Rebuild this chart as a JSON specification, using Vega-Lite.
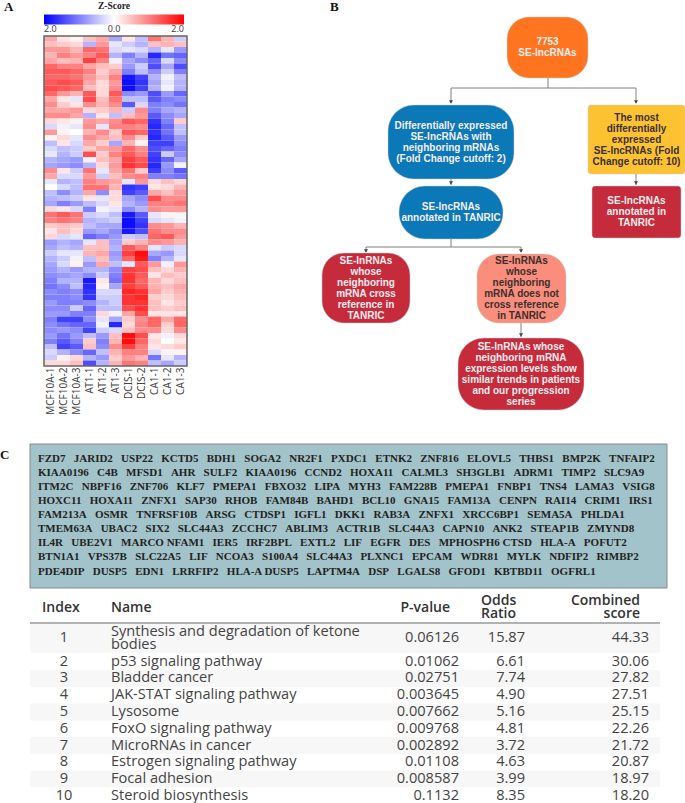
{"$schema":"https://vega.github.io/schema/vega-lite/v6.json","width":685,"height":803,"autosize":{"type":"none"},"padding":0,"background":"#ffffff","config":{"view":{"stroke":null}},
"datasets":{
"boxes":[
{"id":"source","lines":"7753\nSE-lncRNAs","left":507,"top":17,"right":588,"bottom":78,"radius":"mid","tone":"light"},
{"id":"de","lines":"Differentially expressed\nSE-lncRNAs with\nneighboring mRNAs\n(Fold Change cutoff: 2)","left":388,"top":105,"right":514,"bottom":179,"radius":"large","tone":"light"},
{"id":"tanric","lines":"SE-lncRNAs\nannotated in TANRIC","left":399,"top":186,"right":503,"bottom":239,"radius":"large","tone":"light"},
{"id":"top","lines":"The most\ndifferentially\nexpressed\nSE-lncRNAs (Fold\nChange cutoff: 10)","left":588,"top":105,"right":685,"bottom":174,"radius":"small","tone":"dark"},
{"id":"red","lines":"SE-lncRNAs\nannotated in\nTANRIC","left":592,"top":186,"right":681,"bottom":238,"radius":"small","tone":"light"},
{"id":"red","lines":"SE-lnRNAs\nwhose\nneighboring\nmRNA cross\nreference in\nTANRIC","left":322,"top":253,"right":410,"bottom":323,"radius":"mid","tone":"light"},
{"id":"salmon","lines":"SE-lnRNAs\nwhose\nneighboring\nmRNA does not\ncross reference\nin TANRIC","left":477,"top":254,"right":566,"bottom":323,"radius":"mid","tone":"dark"},
{"id":"red","lines":"SE-lnRNAs whose\nneighboring mRNA\nexpression levels show\nsimilar trends in patients\nand our progression\nseries","left":458,"top":338,"right":584,"bottom":410,"radius":"large","tone":"light"}
],
"links":[
{"x":548,"y":78,"xe":548,"ye":88},{"x":451,"y":88,"xe":636,"ye":88},{"x":451,"y":88,"xe":451,"ye":103},{"x":636,"y":88,"xe":636,"ye":103},
{"x":451,"y":179,"xe":451,"ye":185},{"x":636,"y":174,"xe":636,"ye":185},
{"x":451,"y":239,"xe":451,"ye":247},{"x":366,"y":247,"xe":521,"ye":247},{"x":366,"y":247,"xe":366,"ye":252},{"x":521,"y":247,"xe":521,"ye":252},
{"x":521,"y":323,"xe":521,"ye":337}],
"heads":[{"x":451,"y":102},{"x":636,"y":102},{"x":451,"y":183},{"x":636,"y":183},{"x":366,"y":251},{"x":521,"y":251},{"x":521,"y":335}],
"genes":[
{"y":459,"t":"FZD7  JARID2  USP22  KCTD5  BDH1  SOGA2  NR2F1  PXDC1  ETNK2  ZNF816  ELOVL5  THBS1  BMP2K  TNFAIP2"},
{"y":473,"t":"KIAA0196  C4B  MFSD1  AHR  SULF2  KIAA0196  CCND2  HOXA11  CALML3  SH3GLB1  ADRM1  TIMP2  SLC9A9"},
{"y":487,"t":"ITM2C  NBPF16  ZNF706  KLF7  PMEPA1  FBXO32  LIPA  MYH3  FAM228B  PMEPA1  FNBP1  TNS4  LAMA3  VSIG8"},
{"y":501,"t":"HOXC11  HOXA11  ZNFX1  SAP30  RHOB  FAM84B  BAHD1  BCL10  GNA15  FAM13A  CENPN  RAI14  CRIM1  IRS1"},
{"y":514.5,"t":"FAM213A  OSMR  TNFRSF10B  ARSG  CTDSP1  IGFL1  DKK1  RAB3A  ZNFX1  XRCC6BP1  SEMA5A  PHLDA1"},
{"y":529,"t":"TMEM63A  UBAC2  SIX2  SLC44A3  ZCCHC7  ABLIM3  ACTR1B  SLC44A3  CAPN10  ANK2  STEAP1B  ZMYND8"},
{"y":543,"t":"IL4R  UBE2V1  MARCO NFAM1  IER5  IRF2BPL  EXTL2  LIF  EGFR  DES  MPHOSPH6 CTSD  HLA-A  POFUT2"},
{"y":557,"t":"BTN1A1  VPS37B  SLC22A5  LIF  NCOA3  S100A4  SLC44A3  PLXNC1  EPCAM  WDR81  MYLK  NDFIP2  RIMBP2"},
{"y":571.5,"t":"PDE4DIP  DUSP5  EDN1  LRRFIP2  HLA-A DUSP5  LAPTM4A  DSP  LGALS8  GFOD1  KBTBD11  OGFRL1"}],
"bands":[{"top":623.5,"bottom":652.7},{"top":670,"bottom":687},{"top":703.5,"bottom":720.5},{"top":737,"bottom":754},{"top":770.5,"bottom":787}],
"head":[{"r":0,"c":1,"t":"Index"},{"r":0,"c":2,"t":"Name"},{"r":0,"c":3,"t":"P-value"},{"r":0,"c":4,"t":"Odds\nRatio"},{"r":0,"c":5,"t":"Combined\nscore"}],
"cells":[
{"r":1,"c":1,"t":"1"},{"r":1,"c":2,"t":"Synthesis and degradation of ketone\nbodies"},{"r":1,"c":3,"t":"0.06126"},{"r":1,"c":4,"t":"15.87"},{"r":1,"c":5,"t":"44.33"},
{"r":2,"c":1,"t":"2"},{"r":2,"c":2,"t":"p53 signaling pathway"},{"r":2,"c":3,"t":"0.01062"},{"r":2,"c":4,"t":"6.61"},{"r":2,"c":5,"t":"30.06"},
{"r":3,"c":1,"t":"3"},{"r":3,"c":2,"t":"Bladder cancer"},{"r":3,"c":3,"t":"0.02751"},{"r":3,"c":4,"t":"7.74"},{"r":3,"c":5,"t":"27.82"},
{"r":4,"c":1,"t":"4"},{"r":4,"c":2,"t":"JAK-STAT signaling pathway"},{"r":4,"c":3,"t":"0.003645"},{"r":4,"c":4,"t":"4.90"},{"r":4,"c":5,"t":"27.51"},
{"r":5,"c":1,"t":"5"},{"r":5,"c":2,"t":"Lysosome"},{"r":5,"c":3,"t":"0.007662"},{"r":5,"c":4,"t":"5.16"},{"r":5,"c":5,"t":"25.15"},
{"r":6,"c":1,"t":"6"},{"r":6,"c":2,"t":"FoxO signaling pathway"},{"r":6,"c":3,"t":"0.009768"},{"r":6,"c":4,"t":"4.81"},{"r":6,"c":5,"t":"22.26"},
{"r":7,"c":1,"t":"7"},{"r":7,"c":2,"t":"MicroRNAs in cancer"},{"r":7,"c":3,"t":"0.002892"},{"r":7,"c":4,"t":"3.72"},{"r":7,"c":5,"t":"21.72"},
{"r":8,"c":1,"t":"8"},{"r":8,"c":2,"t":"Estrogen signaling pathway"},{"r":8,"c":3,"t":"0.01108"},{"r":8,"c":4,"t":"4.63"},{"r":8,"c":5,"t":"20.87"},
{"r":9,"c":1,"t":"9"},{"r":9,"c":2,"t":"Focal adhesion"},{"r":9,"c":3,"t":"0.008587"},{"r":9,"c":4,"t":"3.99"},{"r":9,"c":5,"t":"18.97"},
{"r":10,"c":1,"t":"10"},{"r":10,"c":2,"t":"Steroid biosynthesis"},{"r":10,"c":3,"t":"0.1132"},{"r":10,"c":4,"t":"8.35"},{"r":10,"c":5,"t":"18.20"}]
},
"resolve":{"scale":{"x":"independent","y":"independent","color":"independent"}},
"layer":[
{"data":{"values":[
{"r":0,"s":"MCF10A-1","z":0.7},{"r":0,"s":"MCF10A-2","z":0.2},{"r":0,"s":"MCF10A-3","z":0.1},{"r":0,"s":"AT1-1","z":0.5},{"r":0,"s":"AT1-2","z":0.7},{"r":0,"s":"AT1-3","z":-0.7},{"r":0,"s":"DCIS-1","z":0.2},{"r":0,"s":"DCIS-2","z":-0.5},{"r":0,"s":"CA1-1","z":1.1},{"r":0,"s":"CA1-2","z":0.6},{"r":0,"s":"CA1-3","z":-0.4},
{"r":1,"s":"MCF10A-1","z":0.5},{"r":1,"s":"MCF10A-2","z":0.4},{"r":1,"s":"MCF10A-3","z":0.3},{"r":1,"s":"AT1-1","z":-0.6},{"r":1,"s":"AT1-2","z":0.8},{"r":1,"s":"AT1-3","z":-0.2},{"r":1,"s":"DCIS-1","z":-0.4},{"r":1,"s":"DCIS-2","z":-0.6},{"r":1,"s":"CA1-1","z":0.5},{"r":1,"s":"CA1-2","z":0.6},{"r":1,"s":"CA1-3","z":0.5},
{"r":2,"s":"MCF10A-1","z":0.8},{"r":2,"s":"MCF10A-2","z":0.8},{"r":2,"s":"MCF10A-3","z":0.6},{"r":2,"s":"AT1-1","z":1.2},{"r":2,"s":"AT1-2","z":1.1},{"r":2,"s":"AT1-3","z":-0.3},{"r":2,"s":"DCIS-1","z":-0.2},{"r":2,"s":"DCIS-2","z":-0.3},{"r":2,"s":"CA1-1","z":-0.6},{"r":2,"s":"CA1-2","z":-0.2},{"r":2,"s":"CA1-3","z":-0.8},
{"r":3,"s":"MCF10A-1","z":0.6},{"r":3,"s":"MCF10A-2","z":1.0},{"r":3,"s":"MCF10A-3","z":0.8},{"r":3,"s":"AT1-1","z":1.0},{"r":3,"s":"AT1-2","z":1.3},{"r":3,"s":"AT1-3","z":-0.6},{"r":3,"s":"DCIS-1","z":-1.0},{"r":3,"s":"DCIS-2","z":-0.6},{"r":3,"s":"CA1-1","z":-1.7},{"r":3,"s":"CA1-2","z":-1.1},{"r":3,"s":"CA1-3","z":-1.2},
{"r":4,"s":"MCF10A-1","z":0.7},{"r":4,"s":"MCF10A-2","z":0.5},{"r":4,"s":"MCF10A-3","z":0.6},{"r":4,"s":"AT1-1","z":1.5},{"r":4,"s":"AT1-2","z":1.0},{"r":4,"s":"AT1-3","z":-0.1},{"r":4,"s":"DCIS-1","z":-0.7},{"r":4,"s":"DCIS-2","z":-0.9},{"r":4,"s":"CA1-1","z":-1.2},{"r":4,"s":"CA1-2","z":-0.3},{"r":4,"s":"CA1-3","z":-0.9},
{"r":5,"s":"MCF10A-1","z":1.2},{"r":5,"s":"MCF10A-2","z":1.0},{"r":5,"s":"MCF10A-3","z":1.0},{"r":5,"s":"AT1-1","z":0.7},{"r":5,"s":"AT1-2","z":0.5},{"r":5,"s":"AT1-3","z":0.4},{"r":5,"s":"DCIS-1","z":-0.8},{"r":5,"s":"DCIS-2","z":-0.4},{"r":5,"s":"CA1-1","z":-1.4},{"r":5,"s":"CA1-2","z":-0.7},{"r":5,"s":"CA1-3","z":-1.4},
{"r":6,"s":"MCF10A-1","z":1.3},{"r":6,"s":"MCF10A-2","z":1.3},{"r":6,"s":"MCF10A-3","z":1.2},{"r":6,"s":"AT1-1","z":1.0},{"r":6,"s":"AT1-2","z":0.4},{"r":6,"s":"AT1-3","z":0.7},{"r":6,"s":"DCIS-1","z":-1.0},{"r":6,"s":"DCIS-2","z":-0.5},{"r":6,"s":"CA1-1","z":-0.9},{"r":6,"s":"CA1-2","z":-0.4},{"r":6,"s":"CA1-3","z":-1.0},
{"r":7,"s":"MCF10A-1","z":1.2},{"r":7,"s":"MCF10A-2","z":1.2},{"r":7,"s":"MCF10A-3","z":1.1},{"r":7,"s":"AT1-1","z":0.8},{"r":7,"s":"AT1-2","z":0.5},{"r":7,"s":"AT1-3","z":1.0},{"r":7,"s":"DCIS-1","z":-1.8},{"r":7,"s":"DCIS-2","z":-1.5},{"r":7,"s":"CA1-1","z":-0.6},{"r":7,"s":"CA1-2","z":-0.1},{"r":7,"s":"CA1-3","z":-0.5},
{"r":8,"s":"MCF10A-1","z":1.3},{"r":8,"s":"MCF10A-2","z":1.4},{"r":8,"s":"MCF10A-3","z":1.3},{"r":8,"s":"AT1-1","z":0.7},{"r":8,"s":"AT1-2","z":0.3},{"r":8,"s":"AT1-3","z":0.8},{"r":8,"s":"DCIS-1","z":-1.9},{"r":8,"s":"DCIS-2","z":-1.6},{"r":8,"s":"CA1-1","z":-0.7},{"r":8,"s":"CA1-2","z":-0.2},{"r":8,"s":"CA1-3","z":-0.6},
{"r":9,"s":"MCF10A-1","z":1.4},{"r":9,"s":"MCF10A-2","z":1.3},{"r":9,"s":"MCF10A-3","z":1.2},{"r":9,"s":"AT1-1","z":0.5},{"r":9,"s":"AT1-2","z":0.3},{"r":9,"s":"AT1-3","z":0.9},{"r":9,"s":"DCIS-1","z":-1.9},{"r":9,"s":"DCIS-2","z":-1.5},{"r":9,"s":"CA1-1","z":-0.6},{"r":9,"s":"CA1-2","z":-0.1},{"r":9,"s":"CA1-3","z":-0.6},
{"r":10,"s":"MCF10A-1","z":1.2},{"r":10,"s":"MCF10A-2","z":0.8},{"r":10,"s":"MCF10A-3","z":0.6},{"r":10,"s":"AT1-1","z":1.3},{"r":10,"s":"AT1-2","z":0.3},{"r":10,"s":"AT1-3","z":1.3},{"r":10,"s":"DCIS-1","z":-0.9},{"r":10,"s":"DCIS-2","z":-0.8},{"r":10,"s":"CA1-1","z":-1.4},{"r":10,"s":"CA1-2","z":-0.8},{"r":10,"s":"CA1-3","z":-1.2},
{"r":11,"s":"MCF10A-1","z":0.7},{"r":11,"s":"MCF10A-2","z":0.2},{"r":11,"s":"MCF10A-3","z":-0.2},{"r":11,"s":"AT1-1","z":1.4},{"r":11,"s":"AT1-2","z":0.5},{"r":11,"s":"AT1-3","z":1.1},{"r":11,"s":"DCIS-1","z":-0.5},{"r":11,"s":"DCIS-2","z":-0.5},{"r":11,"s":"CA1-1","z":-1.3},{"r":11,"s":"CA1-2","z":-1.0},{"r":11,"s":"CA1-3","z":-0.9},
{"r":12,"s":"MCF10A-1","z":0.9},{"r":12,"s":"MCF10A-2","z":0.4},{"r":12,"s":"MCF10A-3","z":0.2},{"r":12,"s":"AT1-1","z":0.9},{"r":12,"s":"AT1-2","z":0.6},{"r":12,"s":"AT1-3","z":0.9},{"r":12,"s":"DCIS-1","z":-1.3},{"r":12,"s":"DCIS-2","z":-0.3},{"r":12,"s":"CA1-1","z":-1.0},{"r":12,"s":"CA1-2","z":-0.9},{"r":12,"s":"CA1-3","z":-1.1},
{"r":13,"s":"MCF10A-1","z":0.7},{"r":13,"s":"MCF10A-2","z":0.7},{"r":13,"s":"MCF10A-3","z":0.8},{"r":13,"s":"AT1-1","z":0.3},{"r":13,"s":"AT1-2","z":0.4},{"r":13,"s":"AT1-3","z":0.6},{"r":13,"s":"DCIS-1","z":-0.4},{"r":13,"s":"DCIS-2","z":0.9},{"r":13,"s":"CA1-1","z":-1.0},{"r":13,"s":"CA1-2","z":-0.7},{"r":13,"s":"CA1-3","z":-0.6},
{"r":14,"s":"MCF10A-1","z":0.9},{"r":14,"s":"MCF10A-2","z":0.9},{"r":14,"s":"MCF10A-3","z":0.7},{"r":14,"s":"AT1-1","z":-0.6},{"r":14,"s":"AT1-2","z":0.2},{"r":14,"s":"AT1-3","z":-0.5},{"r":14,"s":"DCIS-1","z":0.5},{"r":14,"s":"DCIS-2","z":0.8},{"r":14,"s":"CA1-1","z":-1.3},{"r":14,"s":"CA1-2","z":-0.9},{"r":14,"s":"CA1-3","z":-0.7},
{"r":15,"s":"MCF10A-1","z":0.3},{"r":15,"s":"MCF10A-2","z":0.2},{"r":15,"s":"MCF10A-3","z":0.1},{"r":15,"s":"AT1-1","z":0.8},{"r":15,"s":"AT1-2","z":0.7},{"r":15,"s":"AT1-3","z":0.9},{"r":15,"s":"DCIS-1","z":1.3},{"r":15,"s":"DCIS-2","z":1.2},{"r":15,"s":"CA1-1","z":-1.6},{"r":15,"s":"CA1-2","z":-1.0},{"r":15,"s":"CA1-3","z":0.4},
{"r":16,"s":"MCF10A-1","z":-0.3},{"r":16,"s":"MCF10A-2","z":-0.1},{"r":16,"s":"MCF10A-3","z":-0.2},{"r":16,"s":"AT1-1","z":0.9},{"r":16,"s":"AT1-2","z":-0.2},{"r":16,"s":"AT1-3","z":1.0},{"r":16,"s":"DCIS-1","z":1.0},{"r":16,"s":"DCIS-2","z":0.9},{"r":16,"s":"CA1-1","z":-1.7},{"r":16,"s":"CA1-2","z":-1.2},{"r":16,"s":"CA1-3","z":-0.5},
{"r":17,"s":"MCF10A-1","z":0.8},{"r":17,"s":"MCF10A-2","z":0.1},{"r":17,"s":"MCF10A-3","z":0.0},{"r":17,"s":"AT1-1","z":0.6},{"r":17,"s":"AT1-2","z":0.9},{"r":17,"s":"AT1-3","z":0.4},{"r":17,"s":"DCIS-1","z":1.3},{"r":17,"s":"DCIS-2","z":1.2},{"r":17,"s":"CA1-1","z":-1.6},{"r":17,"s":"CA1-2","z":-1.1},{"r":17,"s":"CA1-3","z":-0.5},
{"r":18,"s":"MCF10A-1","z":0.1},{"r":18,"s":"MCF10A-2","z":0.3},{"r":18,"s":"MCF10A-3","z":-0.2},{"r":18,"s":"AT1-1","z":0.9},{"r":18,"s":"AT1-2","z":0.7},{"r":18,"s":"AT1-3","z":0.5},{"r":18,"s":"DCIS-1","z":0.9},{"r":18,"s":"DCIS-2","z":0.4},{"r":18,"s":"CA1-1","z":-1.7},{"r":18,"s":"CA1-2","z":-1.3},{"r":18,"s":"CA1-3","z":-0.8},
{"r":19,"s":"MCF10A-1","z":-0.5},{"r":19,"s":"MCF10A-2","z":0.2},{"r":19,"s":"MCF10A-3","z":-0.3},{"r":19,"s":"AT1-1","z":0.7},{"r":19,"s":"AT1-2","z":0.4},{"r":19,"s":"AT1-3","z":-0.7},{"r":19,"s":"DCIS-1","z":0.6},{"r":19,"s":"DCIS-2","z":0.1},{"r":19,"s":"CA1-1","z":-1.5},{"r":19,"s":"CA1-2","z":-1.5},{"r":19,"s":"CA1-3","z":-0.9},
{"r":20,"s":"MCF10A-1","z":-0.3},{"r":20,"s":"MCF10A-2","z":-0.5},{"r":20,"s":"MCF10A-3","z":-0.4},{"r":20,"s":"AT1-1","z":0.4},{"r":20,"s":"AT1-2","z":0.7},{"r":20,"s":"AT1-3","z":0.8},{"r":20,"s":"DCIS-1","z":1.2},{"r":20,"s":"DCIS-2","z":0.9},{"r":20,"s":"CA1-1","z":-1.4},{"r":20,"s":"CA1-2","z":-1.2},{"r":20,"s":"CA1-3","z":-1.0},
{"r":21,"s":"MCF10A-1","z":-0.2},{"r":21,"s":"MCF10A-2","z":-0.6},{"r":21,"s":"MCF10A-3","z":-0.4},{"r":21,"s":"AT1-1","z":1.4},{"r":21,"s":"AT1-2","z":0.4},{"r":21,"s":"AT1-3","z":1.0},{"r":21,"s":"DCIS-1","z":1.3},{"r":21,"s":"DCIS-2","z":1.0},{"r":21,"s":"CA1-1","z":-1.5},{"r":21,"s":"CA1-2","z":-0.4},{"r":21,"s":"CA1-3","z":-0.9},
{"r":22,"s":"MCF10A-1","z":-0.6},{"r":22,"s":"MCF10A-2","z":-0.7},{"r":22,"s":"MCF10A-3","z":-0.8},{"r":22,"s":"AT1-1","z":-0.1},{"r":22,"s":"AT1-2","z":0.5},{"r":22,"s":"AT1-3","z":0.7},{"r":22,"s":"DCIS-1","z":1.5},{"r":22,"s":"DCIS-2","z":1.3},{"r":22,"s":"CA1-1","z":-1.6},{"r":22,"s":"CA1-2","z":-1.2},{"r":22,"s":"CA1-3","z":-0.7},
{"r":23,"s":"MCF10A-1","z":-0.7},{"r":23,"s":"MCF10A-2","z":-0.8},{"r":23,"s":"MCF10A-3","z":-0.9},{"r":23,"s":"AT1-1","z":-0.6},{"r":23,"s":"AT1-2","z":0.3},{"r":23,"s":"AT1-3","z":0.8},{"r":23,"s":"DCIS-1","z":1.6},{"r":23,"s":"DCIS-2","z":1.4},{"r":23,"s":"CA1-1","z":-1.7},{"r":23,"s":"CA1-2","z":-0.8},{"r":23,"s":"CA1-3","z":-0.1},
{"r":24,"s":"MCF10A-1","z":0.9},{"r":24,"s":"MCF10A-2","z":0.2},{"r":24,"s":"MCF10A-3","z":-0.4},{"r":24,"s":"AT1-1","z":1.1},{"r":24,"s":"AT1-2","z":-0.2},{"r":24,"s":"AT1-3","z":0.7},{"r":24,"s":"DCIS-1","z":1.1},{"r":24,"s":"DCIS-2","z":0.4},{"r":24,"s":"CA1-1","z":-1.5},{"r":24,"s":"CA1-2","z":-0.9},{"r":24,"s":"CA1-3","z":-1.3},
{"r":25,"s":"MCF10A-1","z":0.7},{"r":25,"s":"MCF10A-2","z":-0.3},{"r":25,"s":"MCF10A-3","z":-0.3},{"r":25,"s":"AT1-1","z":0.8},{"r":25,"s":"AT1-2","z":-0.4},{"r":25,"s":"AT1-3","z":0.5},{"r":25,"s":"DCIS-1","z":0.9},{"r":25,"s":"DCIS-2","z":1.0},{"r":25,"s":"CA1-1","z":-1.0},{"r":25,"s":"CA1-2","z":-1.0},{"r":25,"s":"CA1-3","z":-1.1},
{"r":26,"s":"MCF10A-1","z":-0.2},{"r":26,"s":"MCF10A-2","z":-0.6},{"r":26,"s":"MCF10A-3","z":-0.5},{"r":26,"s":"AT1-1","z":1.0},{"r":26,"s":"AT1-2","z":0.8},{"r":26,"s":"AT1-3","z":0.7},{"r":26,"s":"DCIS-1","z":-0.2},{"r":26,"s":"DCIS-2","z":0.8},{"r":26,"s":"CA1-1","z":0.3},{"r":26,"s":"CA1-2","z":0.5},{"r":26,"s":"CA1-3","z":0.3},
{"r":27,"s":"MCF10A-1","z":0.0},{"r":27,"s":"MCF10A-2","z":-0.3},{"r":27,"s":"MCF10A-3","z":-0.5},{"r":27,"s":"AT1-1","z":1.1},{"r":27,"s":"AT1-2","z":1.1},{"r":27,"s":"AT1-3","z":0.6},{"r":27,"s":"DCIS-1","z":-1.6},{"r":27,"s":"DCIS-2","z":-1.5},{"r":27,"s":"CA1-1","z":0.2},{"r":27,"s":"CA1-2","z":0.3},{"r":27,"s":"CA1-3","z":0.6},
{"r":28,"s":"MCF10A-1","z":-0.5},{"r":28,"s":"MCF10A-2","z":-0.9},{"r":28,"s":"MCF10A-3","z":-0.6},{"r":28,"s":"AT1-1","z":0.7},{"r":28,"s":"AT1-2","z":-0.9},{"r":28,"s":"AT1-3","z":0.3},{"r":28,"s":"DCIS-1","z":-1.5},{"r":28,"s":"DCIS-2","z":-1.3},{"r":28,"s":"CA1-1","z":0.7},{"r":28,"s":"CA1-2","z":0.5},{"r":28,"s":"CA1-3","z":0.8},
{"r":29,"s":"MCF10A-1","z":-0.6},{"r":29,"s":"MCF10A-2","z":-0.5},{"r":29,"s":"MCF10A-3","z":-0.4},{"r":29,"s":"AT1-1","z":0.2},{"r":29,"s":"AT1-2","z":-0.2},{"r":29,"s":"AT1-3","z":0.3},{"r":29,"s":"DCIS-1","z":-0.7},{"r":29,"s":"DCIS-2","z":-0.9},{"r":29,"s":"CA1-1","z":1.4},{"r":29,"s":"CA1-2","z":0.9},{"r":29,"s":"CA1-3","z":0.9},
{"r":30,"s":"MCF10A-1","z":-0.7},{"r":30,"s":"MCF10A-2","z":-1.0},{"r":30,"s":"MCF10A-3","z":-0.8},{"r":30,"s":"AT1-1","z":-0.5},{"r":30,"s":"AT1-2","z":-0.3},{"r":30,"s":"AT1-3","z":0.2},{"r":30,"s":"DCIS-1","z":-0.6},{"r":30,"s":"DCIS-2","z":-0.8},{"r":30,"s":"CA1-1","z":1.0},{"r":30,"s":"CA1-2","z":1.0},{"r":30,"s":"CA1-3","z":1.1},
{"r":31,"s":"MCF10A-1","z":0.3},{"r":31,"s":"MCF10A-2","z":0.2},{"r":31,"s":"MCF10A-3","z":-0.3},{"r":31,"s":"AT1-1","z":-1.0},{"r":31,"s":"AT1-2","z":-0.1},{"r":31,"s":"AT1-3","z":-0.2},{"r":31,"s":"DCIS-1","z":-0.9},{"r":31,"s":"DCIS-2","z":-0.6},{"r":31,"s":"CA1-1","z":0.9},{"r":31,"s":"CA1-2","z":0.8},{"r":31,"s":"CA1-3","z":0.8},
{"r":32,"s":"MCF10A-1","z":1.1},{"r":32,"s":"MCF10A-2","z":1.3},{"r":32,"s":"MCF10A-3","z":1.1},{"r":32,"s":"AT1-1","z":-0.4},{"r":32,"s":"AT1-2","z":-0.3},{"r":32,"s":"AT1-3","z":-0.5},{"r":32,"s":"DCIS-1","z":-1.8},{"r":32,"s":"DCIS-2","z":-1.3},{"r":32,"s":"CA1-1","z":-0.2},{"r":32,"s":"CA1-2","z":0.1},{"r":32,"s":"CA1-3","z":0.1},
{"r":33,"s":"MCF10A-1","z":1.0},{"r":33,"s":"MCF10A-2","z":1.1},{"r":33,"s":"MCF10A-3","z":1.0},{"r":33,"s":"AT1-1","z":-0.6},{"r":33,"s":"AT1-2","z":-0.5},{"r":33,"s":"AT1-3","z":-0.4},{"r":33,"s":"DCIS-1","z":-1.9},{"r":33,"s":"DCIS-2","z":-1.5},{"r":33,"s":"CA1-1","z":-0.3},{"r":33,"s":"CA1-2","z":-0.2},{"r":33,"s":"CA1-3","z":-0.1},
{"r":34,"s":"MCF10A-1","z":0.4},{"r":34,"s":"MCF10A-2","z":0.5},{"r":34,"s":"MCF10A-3","z":0.4},{"r":34,"s":"AT1-1","z":-0.5},{"r":34,"s":"AT1-2","z":-0.7},{"r":34,"s":"AT1-3","z":-0.7},{"r":34,"s":"DCIS-1","z":-1.9},{"r":34,"s":"DCIS-2","z":-1.6},{"r":34,"s":"CA1-1","z":0.9},{"r":34,"s":"CA1-2","z":0.8},{"r":34,"s":"CA1-3","z":0.6},
{"r":35,"s":"MCF10A-1","z":0.2},{"r":35,"s":"MCF10A-2","z":0.5},{"r":35,"s":"MCF10A-3","z":0.3},{"r":35,"s":"AT1-1","z":-0.8},{"r":35,"s":"AT1-2","z":-0.7},{"r":35,"s":"AT1-3","z":-0.9},{"r":35,"s":"DCIS-1","z":-1.8},{"r":35,"s":"DCIS-2","z":-1.4},{"r":35,"s":"CA1-1","z":1.1},{"r":35,"s":"CA1-2","z":0.9},{"r":35,"s":"CA1-3","z":0.9},
{"r":36,"s":"MCF10A-1","z":0.3},{"r":36,"s":"MCF10A-2","z":-0.3},{"r":36,"s":"MCF10A-3","z":-0.2},{"r":36,"s":"AT1-1","z":-1.2},{"r":36,"s":"AT1-2","z":-1.0},{"r":36,"s":"AT1-3","z":-0.8},{"r":36,"s":"DCIS-1","z":-0.4},{"r":36,"s":"DCIS-2","z":-0.5},{"r":36,"s":"CA1-1","z":1.2},{"r":36,"s":"CA1-2","z":1.3},{"r":36,"s":"CA1-3","z":0.8},
{"r":37,"s":"MCF10A-1","z":-0.8},{"r":37,"s":"MCF10A-2","z":-0.6},{"r":37,"s":"MCF10A-3","z":-0.7},{"r":37,"s":"AT1-1","z":-0.2},{"r":37,"s":"AT1-2","z":0.5},{"r":37,"s":"AT1-3","z":-0.7},{"r":37,"s":"DCIS-1","z":0.4},{"r":37,"s":"DCIS-2","z":0.6},{"r":37,"s":"CA1-1","z":0.9},{"r":37,"s":"CA1-2","z":0.8},{"r":37,"s":"CA1-3","z":0.6},
{"r":38,"s":"MCF10A-1","z":-0.7},{"r":38,"s":"MCF10A-2","z":-0.5},{"r":38,"s":"MCF10A-3","z":-0.6},{"r":38,"s":"AT1-1","z":0.5},{"r":38,"s":"AT1-2","z":0.5},{"r":38,"s":"AT1-3","z":-0.6},{"r":38,"s":"DCIS-1","z":1.3},{"r":38,"s":"DCIS-2","z":1.0},{"r":38,"s":"CA1-1","z":-0.2},{"r":38,"s":"CA1-2","z":-0.4},{"r":38,"s":"CA1-3","z":-0.3},
{"r":39,"s":"MCF10A-1","z":-0.4},{"r":39,"s":"MCF10A-2","z":-0.2},{"r":39,"s":"MCF10A-3","z":-0.2},{"r":39,"s":"AT1-1","z":0.6},{"r":39,"s":"AT1-2","z":0.7},{"r":39,"s":"AT1-3","z":-0.8},{"r":39,"s":"DCIS-1","z":1.5},{"r":39,"s":"DCIS-2","z":1.9},{"r":39,"s":"CA1-1","z":-0.7},{"r":39,"s":"CA1-2","z":-0.8},{"r":39,"s":"CA1-3","z":-0.3},
{"r":40,"s":"MCF10A-1","z":-0.6},{"r":40,"s":"MCF10A-2","z":-0.4},{"r":40,"s":"MCF10A-3","z":-0.1},{"r":40,"s":"AT1-1","z":-0.5},{"r":40,"s":"AT1-2","z":0.5},{"r":40,"s":"AT1-3","z":-0.7},{"r":40,"s":"DCIS-1","z":1.2},{"r":40,"s":"DCIS-2","z":1.8},{"r":40,"s":"CA1-1","z":-1.0},{"r":40,"s":"CA1-2","z":-0.6},{"r":40,"s":"CA1-3","z":-0.2},
{"r":41,"s":"MCF10A-1","z":-0.7},{"r":41,"s":"MCF10A-2","z":-0.3},{"r":41,"s":"MCF10A-3","z":0.1},{"r":41,"s":"AT1-1","z":-0.8},{"r":41,"s":"AT1-2","z":0.7},{"r":41,"s":"AT1-3","z":-0.5},{"r":41,"s":"DCIS-1","z":-0.2},{"r":41,"s":"DCIS-2","z":1.3},{"r":41,"s":"CA1-1","z":0.8},{"r":41,"s":"CA1-2","z":-0.1},{"r":41,"s":"CA1-3","z":0.8},
{"r":42,"s":"MCF10A-1","z":-0.8},{"r":42,"s":"MCF10A-2","z":-0.6},{"r":42,"s":"MCF10A-3","z":-0.8},{"r":42,"s":"AT1-1","z":-0.6},{"r":42,"s":"AT1-2","z":-0.6},{"r":42,"s":"AT1-3","z":-0.9},{"r":42,"s":"DCIS-1","z":1.5},{"r":42,"s":"DCIS-2","z":1.4},{"r":42,"s":"CA1-1","z":0.5},{"r":42,"s":"CA1-2","z":0.3},{"r":42,"s":"CA1-3","z":0.6},
{"r":43,"s":"MCF10A-1","z":-0.9},{"r":43,"s":"MCF10A-2","z":-0.8},{"r":43,"s":"MCF10A-3","z":-0.7},{"r":43,"s":"AT1-1","z":-0.9},{"r":43,"s":"AT1-2","z":-0.4},{"r":43,"s":"AT1-3","z":-1.0},{"r":43,"s":"DCIS-1","z":1.6},{"r":43,"s":"DCIS-2","z":1.3},{"r":43,"s":"CA1-1","z":0.2},{"r":43,"s":"CA1-2","z":0.5},{"r":43,"s":"CA1-3","z":0.4},
{"r":44,"s":"MCF10A-1","z":-1.0},{"r":44,"s":"MCF10A-2","z":-0.6},{"r":44,"s":"MCF10A-3","z":-0.6},{"r":44,"s":"AT1-1","z":-1.8},{"r":44,"s":"AT1-2","z":0.2},{"r":44,"s":"AT1-3","z":-1.1},{"r":44,"s":"DCIS-1","z":1.6},{"r":44,"s":"DCIS-2","z":1.2},{"r":44,"s":"CA1-1","z":0.6},{"r":44,"s":"CA1-2","z":0.3},{"r":44,"s":"CA1-3","z":0.5},
{"r":45,"s":"MCF10A-1","z":-1.1},{"r":45,"s":"MCF10A-2","z":-0.9},{"r":45,"s":"MCF10A-3","z":-0.5},{"r":45,"s":"AT1-1","z":-1.7},{"r":45,"s":"AT1-2","z":0.1},{"r":45,"s":"AT1-3","z":-0.7},{"r":45,"s":"DCIS-1","z":1.5},{"r":45,"s":"DCIS-2","z":1.3},{"r":45,"s":"CA1-1","z":0.6},{"r":45,"s":"CA1-2","z":0.5},{"r":45,"s":"CA1-3","z":0.7},
{"r":46,"s":"MCF10A-1","z":-0.9},{"r":46,"s":"MCF10A-2","z":-1.0},{"r":46,"s":"MCF10A-3","z":-0.9},{"r":46,"s":"AT1-1","z":-1.6},{"r":46,"s":"AT1-2","z":-0.3},{"r":46,"s":"AT1-3","z":-0.3},{"r":46,"s":"DCIS-1","z":1.7},{"r":46,"s":"DCIS-2","z":1.6},{"r":46,"s":"CA1-1","z":0.7},{"r":46,"s":"CA1-2","z":0.4},{"r":46,"s":"CA1-3","z":0.6},
{"r":47,"s":"MCF10A-1","z":-1.0},{"r":47,"s":"MCF10A-2","z":-1.0},{"r":47,"s":"MCF10A-3","z":-0.9},{"r":47,"s":"AT1-1","z":-1.6},{"r":47,"s":"AT1-2","z":-0.4},{"r":47,"s":"AT1-3","z":-0.4},{"r":47,"s":"DCIS-1","z":1.6},{"r":47,"s":"DCIS-2","z":1.7},{"r":47,"s":"CA1-1","z":0.4},{"r":47,"s":"CA1-2","z":0.3},{"r":47,"s":"CA1-3","z":0.5},
{"r":48,"s":"MCF10A-1","z":-0.8},{"r":48,"s":"MCF10A-2","z":-1.0},{"r":48,"s":"MCF10A-3","z":-1.0},{"r":48,"s":"AT1-1","z":-0.9},{"r":48,"s":"AT1-2","z":-0.6},{"r":48,"s":"AT1-3","z":-0.4},{"r":48,"s":"DCIS-1","z":1.6},{"r":48,"s":"DCIS-2","z":1.6},{"r":48,"s":"CA1-1","z":0.5},{"r":48,"s":"CA1-2","z":0.2},{"r":48,"s":"CA1-3","z":0.4},
{"r":49,"s":"MCF10A-1","z":-0.9},{"r":49,"s":"MCF10A-2","z":-0.9},{"r":49,"s":"MCF10A-3","z":-0.4},{"r":49,"s":"AT1-1","z":-1.2},{"r":49,"s":"AT1-2","z":-0.5},{"r":49,"s":"AT1-3","z":-0.5},{"r":49,"s":"DCIS-1","z":1.4},{"r":49,"s":"DCIS-2","z":1.6},{"r":49,"s":"CA1-1","z":0.5},{"r":49,"s":"CA1-2","z":0.4},{"r":49,"s":"CA1-3","z":0.5},
{"r":50,"s":"MCF10A-1","z":-0.8},{"r":50,"s":"MCF10A-2","z":-0.8},{"r":50,"s":"MCF10A-3","z":-1.0},{"r":50,"s":"AT1-1","z":-1.0},{"r":50,"s":"AT1-2","z":0.3},{"r":50,"s":"AT1-3","z":-0.1},{"r":50,"s":"DCIS-1","z":0.7},{"r":50,"s":"DCIS-2","z":1.4},{"r":50,"s":"CA1-1","z":0.2},{"r":50,"s":"CA1-2","z":0.2},{"r":50,"s":"CA1-3","z":0.2},
{"r":51,"s":"MCF10A-1","z":-1.0},{"r":51,"s":"MCF10A-2","z":-1.5},{"r":51,"s":"MCF10A-3","z":-1.5},{"r":51,"s":"AT1-1","z":-0.9},{"r":51,"s":"AT1-2","z":-0.2},{"r":51,"s":"AT1-3","z":-0.7},{"r":51,"s":"DCIS-1","z":0.4},{"r":51,"s":"DCIS-2","z":0.9},{"r":51,"s":"CA1-1","z":1.2},{"r":51,"s":"CA1-2","z":0.7},{"r":51,"s":"CA1-3","z":1.2},
{"r":52,"s":"MCF10A-1","z":-0.9},{"r":52,"s":"MCF10A-2","z":-1.1},{"r":52,"s":"MCF10A-3","z":-1.2},{"r":52,"s":"AT1-1","z":-1.2},{"r":52,"s":"AT1-2","z":-0.1},{"r":52,"s":"AT1-3","z":-1.7},{"r":52,"s":"DCIS-1","z":0.3},{"r":52,"s":"DCIS-2","z":1.0},{"r":52,"s":"CA1-1","z":1.2},{"r":52,"s":"CA1-2","z":0.4},{"r":52,"s":"CA1-3","z":1.2},
{"r":53,"s":"MCF10A-1","z":-0.9},{"r":53,"s":"MCF10A-2","z":-0.8},{"r":53,"s":"MCF10A-3","z":-0.9},{"r":53,"s":"AT1-1","z":-1.5},{"r":53,"s":"AT1-2","z":-0.4},{"r":53,"s":"AT1-3","z":-0.3},{"r":53,"s":"DCIS-1","z":0.5},{"r":53,"s":"DCIS-2","z":0.9},{"r":53,"s":"CA1-1","z":0.9},{"r":53,"s":"CA1-2","z":0.3},{"r":53,"s":"CA1-3","z":0.9},
{"r":54,"s":"MCF10A-1","z":-0.8},{"r":54,"s":"MCF10A-2","z":-1.1},{"r":54,"s":"MCF10A-3","z":-0.8},{"r":54,"s":"AT1-1","z":-0.5},{"r":54,"s":"AT1-2","z":-0.8},{"r":54,"s":"AT1-3","z":0.5},{"r":54,"s":"DCIS-1","z":1.9},{"r":54,"s":"DCIS-2","z":1.4},{"r":54,"s":"CA1-1","z":0.2},{"r":54,"s":"CA1-2","z":-0.1},{"r":54,"s":"CA1-3","z":0.3},
{"r":55,"s":"MCF10A-1","z":-1.0},{"r":55,"s":"MCF10A-2","z":-1.3},{"r":55,"s":"MCF10A-3","z":-1.0},{"r":55,"s":"AT1-1","z":0.4},{"r":55,"s":"AT1-2","z":-1.0},{"r":55,"s":"AT1-3","z":0.6},{"r":55,"s":"DCIS-1","z":1.9},{"r":55,"s":"DCIS-2","z":1.2},{"r":55,"s":"CA1-1","z":0.3},{"r":55,"s":"CA1-2","z":0.0},{"r":55,"s":"CA1-3","z":0.2},
{"r":56,"s":"MCF10A-1","z":-0.5},{"r":56,"s":"MCF10A-2","z":-1.5},{"r":56,"s":"MCF10A-3","z":-1.3},{"r":56,"s":"AT1-1","z":0.5},{"r":56,"s":"AT1-2","z":-0.9},{"r":56,"s":"AT1-3","z":0.9},{"r":56,"s":"DCIS-1","z":1.5},{"r":56,"s":"DCIS-2","z":1.0},{"r":56,"s":"CA1-1","z":0.2},{"r":56,"s":"CA1-2","z":0.3},{"r":56,"s":"CA1-3","z":0.4},
{"r":57,"s":"MCF10A-1","z":-0.3},{"r":57,"s":"MCF10A-2","z":-0.6},{"r":57,"s":"MCF10A-3","z":-0.9},{"r":57,"s":"AT1-1","z":-1.2},{"r":57,"s":"AT1-2","z":-0.5},{"r":57,"s":"AT1-3","z":0.6},{"r":57,"s":"DCIS-1","z":1.0},{"r":57,"s":"DCIS-2","z":1.0},{"r":57,"s":"CA1-1","z":-0.3},{"r":57,"s":"CA1-2","z":0.1},{"r":57,"s":"CA1-3","z":0.1},
{"r":58,"s":"MCF10A-1","z":-0.4},{"r":58,"s":"MCF10A-2","z":0.1},{"r":58,"s":"MCF10A-3","z":0.3},{"r":58,"s":"AT1-1","z":-0.6},{"r":58,"s":"AT1-2","z":-0.8},{"r":58,"s":"AT1-3","z":0.4},{"r":58,"s":"DCIS-1","z":0.8},{"r":58,"s":"DCIS-2","z":0.6},{"r":58,"s":"CA1-1","z":-1.1},{"r":58,"s":"CA1-2","z":-0.2},{"r":58,"s":"CA1-3","z":-0.6},
{"r":59,"s":"MCF10A-1","z":0.3},{"r":59,"s":"MCF10A-2","z":0.3},{"r":59,"s":"MCF10A-3","z":0.5},{"r":59,"s":"AT1-1","z":-1.4},{"r":59,"s":"AT1-2","z":-0.6},{"r":59,"s":"AT1-3","z":0.6},{"r":59,"s":"DCIS-1","z":1.1},{"r":59,"s":"DCIS-2","z":1.0},{"r":59,"s":"CA1-1","z":-0.5},{"r":59,"s":"CA1-2","z":-0.7},{"r":59,"s":"CA1-3","z":-0.4}
]},
"mark":{"type":"rect"},
"encoding":{
"x":{"field":"s","type":"nominal","title":null,"scale":{"domain":["MCF10A-1","MCF10A-2","MCF10A-3","AT1-1","AT1-2","AT1-3","DCIS-1","DCIS-2","CA1-1","CA1-2","CA1-3"],"range":[44,187],"paddingInner":0,"paddingOuter":0},"axis":{"orient":"bottom","offset":-437,"domain":false,"ticks":false,"labelAngle":-90,"labelFont":"Noto Sans","labelFontSize":10,"labelColor":"#444","labelPadding":1,"grid":false,"labelOverlap":false}},
"y":{"field":"r","type":"ordinal","scale":{"range":[36,366],"paddingInner":0,"paddingOuter":0},"axis":null},
"color":{"field":"z","type":"quantitative","scale":{"domain":[-2,0,2],"range":["#0000ff","#ffffff","#ff0000"],"interpolate":"rgb"},"legend":{"orient":"none","legendX":44,"legendY":1,"direction":"horizontal","gradientLength":140,"gradientThickness":10,"title":"Z-Score","titleFont":"Liberation Serif","titleFontWeight":"bold","titleFontSize":9.5,"titleColor":"#222","titleAnchor":"middle","titlePadding":4,"values":[-2,0,2],"labelExpr":"format(abs(datum.value),'.1f')","labelFont":"Noto Sans","labelFontSize":9,"labelColor":"#444","labelOffset":0}}
}},
{"layer":[
{"data":{"values":[{"left":44,"top":36,"right":187,"bottom":366}]},"mark":{"type":"rect","fill":null,"stroke":"#666666","strokeWidth":1.5},"encoding":{"x":{"field":"left","type":"quantitative","scale":{"domain":[0,685],"range":[0,685]},"axis":null},"x2":{"field":"right"},"y":{"field":"top","type":"quantitative","scale":{"domain":[0,803],"range":[0,803]},"axis":null},"y2":{"field":"bottom"}}},
{"data":{"name":"boxes"},"transform":[{"filter":"datum.radius=='small'"}],"mark":{"type":"rect","cornerRadius":3,"stroke":"#cccccc","strokeWidth":0.5},"encoding":{"x":{"field":"left","type":"quantitative","scale":{"domain":[0,685],"range":[0,685]},"axis":null},"x2":{"field":"right"},"y":{"field":"top","type":"quantitative","scale":{"domain":[0,803],"range":[0,803]},"axis":null},"y2":{"field":"bottom"},"fill":{"field":"id","type":"nominal","scale":{"domain":["source","de","tanric","top","red","salmon"],"range":["#ff751f","#0b78b8","#0b78b8","#fcc232","#c62b3b","#fb8d7c"]},"legend":null}}},
{"data":{"name":"boxes"},"transform":[{"filter":"datum.radius=='mid'"}],"mark":{"type":"rect","cornerRadius":22,"stroke":"#cccccc","strokeWidth":0.5},"encoding":{"x":{"field":"left","type":"quantitative","scale":{"domain":[0,685],"range":[0,685]},"axis":null},"x2":{"field":"right"},"y":{"field":"top","type":"quantitative","scale":{"domain":[0,803],"range":[0,803]},"axis":null},"y2":{"field":"bottom"},"fill":{"field":"id","type":"nominal","scale":{"domain":["source","de","tanric","top","red","salmon"],"range":["#ff751f","#0b78b8","#0b78b8","#fcc232","#c62b3b","#fb8d7c"]},"legend":null}}},
{"data":{"name":"boxes"},"transform":[{"filter":"datum.radius=='large'"}],"mark":{"type":"rect","cornerRadius":26,"stroke":"#cccccc","strokeWidth":0.5},"encoding":{"x":{"field":"left","type":"quantitative","scale":{"domain":[0,685],"range":[0,685]},"axis":null},"x2":{"field":"right"},"y":{"field":"top","type":"quantitative","scale":{"domain":[0,803],"range":[0,803]},"axis":null},"y2":{"field":"bottom"},"fill":{"field":"id","type":"nominal","scale":{"domain":["source","de","tanric","top","red","salmon"],"range":["#ff751f","#0b78b8","#0b78b8","#fcc232","#c62b3b","#fb8d7c"]},"legend":null}}},
{"data":{"name":"links"},"mark":{"type":"rule","color":"#808080","strokeWidth":1},"encoding":{"x":{"field":"x","type":"quantitative","scale":{"domain":[0,685],"range":[0,685]},"axis":null},"x2":{"field":"xe"},"y":{"field":"y","type":"quantitative","scale":{"domain":[0,803],"range":[0,803]},"axis":null},"y2":{"field":"ye"}}},
{"data":{"name":"heads"},"mark":{"type":"point","shape":"triangle-down","filled":true,"color":"#444444","size":16,"opacity":1},"encoding":{"x":{"field":"x","type":"quantitative","scale":{"domain":[0,685],"range":[0,685]},"axis":null},"y":{"field":"y","type":"quantitative","scale":{"domain":[0,803],"range":[0,803]},"axis":null}}},
{"data":{"name":"boxes"},"transform":[{"calculate":"(datum.left+datum.right)/2","as":"cx"},{"calculate":"(datum.top+datum.bottom)/2-(split(datum.lines,'\\n').length-1)*5.5","as":"cy"}],"mark":{"type":"text","font":"Liberation Sans","fontWeight":"bold","fontSize":10,"lineHeight":11,"lineBreak":"\n","align":"center","baseline":"middle"},"encoding":{"x":{"field":"cx","type":"quantitative","scale":{"domain":[0,685],"range":[0,685]},"axis":null},"y":{"field":"cy","type":"quantitative","scale":{"domain":[0,803],"range":[0,803]},"axis":null},"text":{"field":"lines"},"color":{"field":"tone","type":"nominal","scale":{"domain":["light","dark"],"range":["#f5eef0","#3a3030"]},"legend":null}}},
{"data":{"values":[{"t":"A","x":4,"y":7},{"t":"B","x":330,"y":7},{"t":"C","x":0,"y":455}]},"mark":{"type":"text","font":"Liberation Serif","fontWeight":"bold","fontSize":13,"align":"left","baseline":"middle","color":"#111111"},"encoding":{"x":{"field":"x","type":"quantitative","scale":{"domain":[0,685],"range":[0,685]},"axis":null},"y":{"field":"y","type":"quantitative","scale":{"domain":[0,803],"range":[0,803]},"axis":null},"text":{"field":"t"}}},
{"data":{"values":[{"left":30,"top":444,"right":667,"bottom":588}]},"mark":{"type":"rect","fill":"#a2c3c9","stroke":"#888888","strokeWidth":1},"encoding":{"x":{"field":"left","type":"quantitative","scale":{"domain":[0,685],"range":[0,685]},"axis":null},"x2":{"field":"right"},"y":{"field":"top","type":"quantitative","scale":{"domain":[0,803],"range":[0,803]},"axis":null},"y2":{"field":"bottom"}}},
{"data":{"name":"genes"},"transform":[{"calculate":"38","as":"x"},{"calculate":"replace(datum.t,/  /g,'\\u00a0\\u00a0\\u00a0')","as":"wide"}],"mark":{"type":"text","font":"Liberation Serif","fontWeight":"bold","fontSize":11,"align":"left","baseline":"middle","color":"#222222"},"encoding":{"x":{"field":"x","type":"quantitative","scale":{"domain":[0,685],"range":[0,685]},"axis":null},"y":{"field":"y","type":"quantitative","scale":{"domain":[0,803],"range":[0,803]},"axis":null},"text":{"field":"wide"}}},
{"data":{"name":"bands"},"transform":[{"calculate":"30","as":"left"},{"calculate":"660","as":"right"}],"mark":{"type":"rect","fill":"#f7f7f7"},"encoding":{"x":{"field":"left","type":"quantitative","scale":{"domain":[0,685],"range":[0,685]},"axis":null},"x2":{"field":"right"},"y":{"field":"top","type":"quantitative","scale":{"domain":[0,803],"range":[0,803]},"axis":null},"y2":{"field":"bottom"}}},
{"data":{"values":[{"x":30,"xe":660,"y":623}]},"mark":{"type":"rule","color":"#999999","strokeWidth":1.5},"encoding":{"x":{"field":"x","type":"quantitative","scale":{"domain":[0,685],"range":[0,685]},"axis":null},"x2":{"field":"xe"},"y":{"field":"y","type":"quantitative","scale":{"domain":[0,803],"range":[0,803]},"axis":null}}}
]},
{"data":{"name":"cells"},"transform":[{"filter":"datum.c==1"}],"mark":{"type":"text","font":"Open Sans","fontSize":14.6,"color":"#444444","align":"center","baseline":"middle"},"encoding":{"x":{"field":"c","type":"quantitative","scale":{"domain":[1,2],"range":[64,111]},"axis":null},"y":{"field":"r","type":"quantitative","scale":{"domain":[1,2,10],"range":[638,661.7,796]},"axis":null},"text":{"field":"t"}}},
{"data":{"name":"cells"},"transform":[{"filter":"datum.c==2&&datum.r>1"}],"mark":{"type":"text","font":"Open Sans","fontSize":14.6,"color":"#444444","align":"left","baseline":"middle"},"encoding":{"x":{"field":"c","type":"quantitative","scale":{"domain":[1,2],"range":[64,111]},"axis":null},"y":{"field":"r","type":"quantitative","scale":{"domain":[1,2,10],"range":[638,661.7,796]},"axis":null},"text":{"field":"t"}}},
{"data":{"name":"cells"},"transform":[{"filter":"datum.c==2&&datum.r==1"}],"mark":{"type":"text","font":"Open Sans","fontSize":14.6,"color":"#444444","align":"left","baseline":"middle","lineBreak":"\n","lineHeight":13.3,"dy":-6.5},"encoding":{"x":{"field":"c","type":"quantitative","scale":{"domain":[1,2],"range":[64,111]},"axis":null},"y":{"field":"r","type":"quantitative","scale":{"domain":[0,2],"range":[638,638]},"axis":null},"text":{"field":"t"}}},
{"data":{"name":"cells"},"transform":[{"filter":"datum.c>2"}],"mark":{"type":"text","font":"Open Sans","fontSize":14.6,"color":"#444444","align":"right","baseline":"middle"},"encoding":{"x":{"field":"c","type":"quantitative","scale":{"domain":[3,4,5],"range":[459,525,649]},"axis":null},"y":{"field":"r","type":"quantitative","scale":{"domain":[1,2,10],"range":[638,661.7,796]},"axis":null},"text":{"field":"t"}}},
{"data":{"name":"head"},"transform":[{"filter":"datum.c==1||datum.c==2"}],"mark":{"type":"text","font":"Open Sans","fontWeight":600,"fontSize":14,"color":"#333333","align":"left","baseline":"middle"},"encoding":{"x":{"field":"c","type":"quantitative","scale":{"domain":[1,2],"range":[42,111]},"axis":null},"y":{"field":"r","type":"quantitative","scale":{"domain":[0,1],"range":[607.5,638]},"axis":null},"text":{"field":"t"}}},
{"data":{"name":"head"},"transform":[{"filter":"datum.c==4"}],"mark":{"type":"text","font":"Open Sans","fontWeight":600,"fontSize":14,"color":"#333333","align":"left","baseline":"middle","lineBreak":"\n","lineHeight":13,"dy":-6.5},"encoding":{"x":{"field":"c","type":"quantitative","scale":{"domain":[4,5],"range":[481,600]},"axis":null},"y":{"field":"r","type":"quantitative","scale":{"domain":[0,1],"range":[607.5,638]},"axis":null},"text":{"field":"t"}}},
{"data":{"name":"head"},"transform":[{"filter":"datum.c==3"}],"mark":{"type":"text","font":"Open Sans","fontWeight":600,"fontSize":14,"color":"#333333","align":"right","baseline":"middle"},"encoding":{"x":{"field":"c","type":"quantitative","scale":{"domain":[3,5],"range":[450,640]},"axis":null},"y":{"field":"r","type":"quantitative","scale":{"domain":[0,1],"range":[607.5,638]},"axis":null},"text":{"field":"t"}}},
{"data":{"name":"head"},"transform":[{"filter":"datum.c==5"}],"mark":{"type":"text","font":"Open Sans","fontWeight":600,"fontSize":14,"color":"#333333","align":"right","baseline":"middle","lineBreak":"\n","lineHeight":13,"dy":-6.5},"encoding":{"x":{"field":"c","type":"quantitative","scale":{"domain":[3,5],"range":[450,640]},"axis":null},"y":{"field":"r","type":"quantitative","scale":{"domain":[0,1],"range":[607.5,638]},"axis":null},"text":{"field":"t"}}}
]}
